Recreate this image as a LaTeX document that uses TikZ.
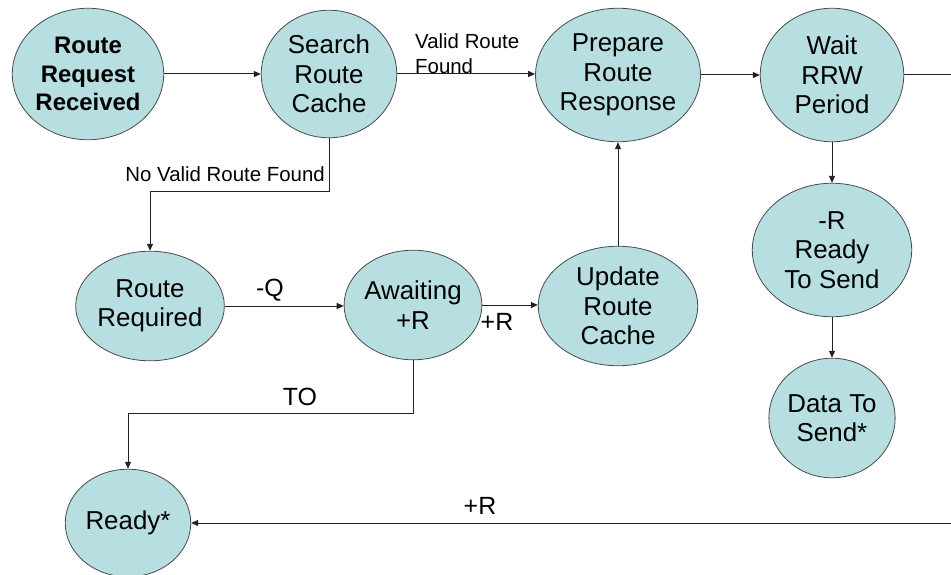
\documentclass[tikz,border=0pt]{standalone}
\usepackage{fontspec}
\setmainfont{Liberation Sans}
\usetikzlibrary{shapes.geometric,arrows.meta}
\definecolor{stfill}{HTML}{B7DFE2}
\definecolor{stline}{HTML}{4A4A4A}
\definecolor{connc}{HTML}{222222}
\begin{document}
\begin{tikzpicture}[x=1bp,y=-1bp,
  state/.style={ellipse,draw=stline,line width=0.8bp,fill=stfill,inner sep=0pt,align=center,
                font=\fontsize{26}{29.5}\selectfont},
  conn/.style={draw=connc,line width=1bp,-{Triangle[length=7bp,width=6bp]}},
  plainconn/.style={draw=connc,line width=1bp},
  lbl/.style={font=\fontsize{25}{28}\selectfont,inner sep=0pt},
  slbl/.style={font=\fontsize{20.5}{25}\selectfont,inner sep=0pt,align=left}]
\useasboundingbox (0,0) rectangle (951,575);
% states
\node[state,minimum width=152,minimum height=132,font=\bfseries\fontsize{24}{29}\selectfont] (rrr) at (88,74) {Route\\Request\\Received};
\node[state,minimum width=136,minimum height=128] (src) at (329,74) {Search\\Route\\Cache};
\node[state,minimum width=142,minimum height=134] (prr) at (618,75) {Prepare\\Route\\Response};
\node[state,minimum width=144,minimum height=134] (wrrw) at (832,75) {Wait\\RRW\\Period};
\node[state,minimum width=160,minimum height=134] (rts) at (832,250) {-R\\Ready\\To Send};
\node[state,minimum width=126,minimum height=120] (dts) at (832,418) {Data To\\Send*};
\node[state,minimum width=160,minimum height=120] (urc) at (618,306) {Update\\Route\\Cache};
\node[state,minimum width=134,minimum height=110] (rr) at (150,306) {Route\\Required};
\node[state,minimum width=124,minimum height=110] (aw) at (413,305) {Awaiting\\+R};
\node[state,minimum width=126,minimum height=108] (rdy) at (128,523) {Ready*};
% helper coordinates
\coordinate (eR1) at (951,75);
\coordinate (eR2) at (951,523);
\coordinate (k1) at (329,192);
\coordinate (k2) at (413,413);
% connectors
\draw[conn] (rrr.east) -- (rrr.east -| src.west);
\draw[conn] (src.east) -- (src.east -| prr.west);
\draw[conn] (prr) -- (wrrw);
\draw[plainconn] (wrrw) -- (eR1);
\draw[conn] (src.south) -- (k1) -| (rr.north);
\draw[conn] (rr.east) -- (rr.east -| aw.west);
\draw[conn] (aw.east) -- (aw.east -| urc.west);
\draw[conn] (urc) -- (prr);
\draw[conn] (aw.south) -- (k2) -| (rdy.north);
\draw[conn] (wrrw) -- (rts);
\draw[conn] (rts) -- (dts);
\draw[conn] (eR2) -- (rdy);
% labels
\node[slbl,anchor=north west] (lvalid) at (415,34) {Valid Route\\Found};
\node[slbl,anchor=base east] (lnovalid) at (325,182) {No Valid Route Found};
\node[lbl] (lq) at (270,290) {-Q};
\node[lbl] (lr1) at (497,322) {+R};
\node[lbl] (lto) at (300,397) {TO};
\node[lbl] (lr2) at (480,506) {+R};
\end{tikzpicture}
\end{document}
